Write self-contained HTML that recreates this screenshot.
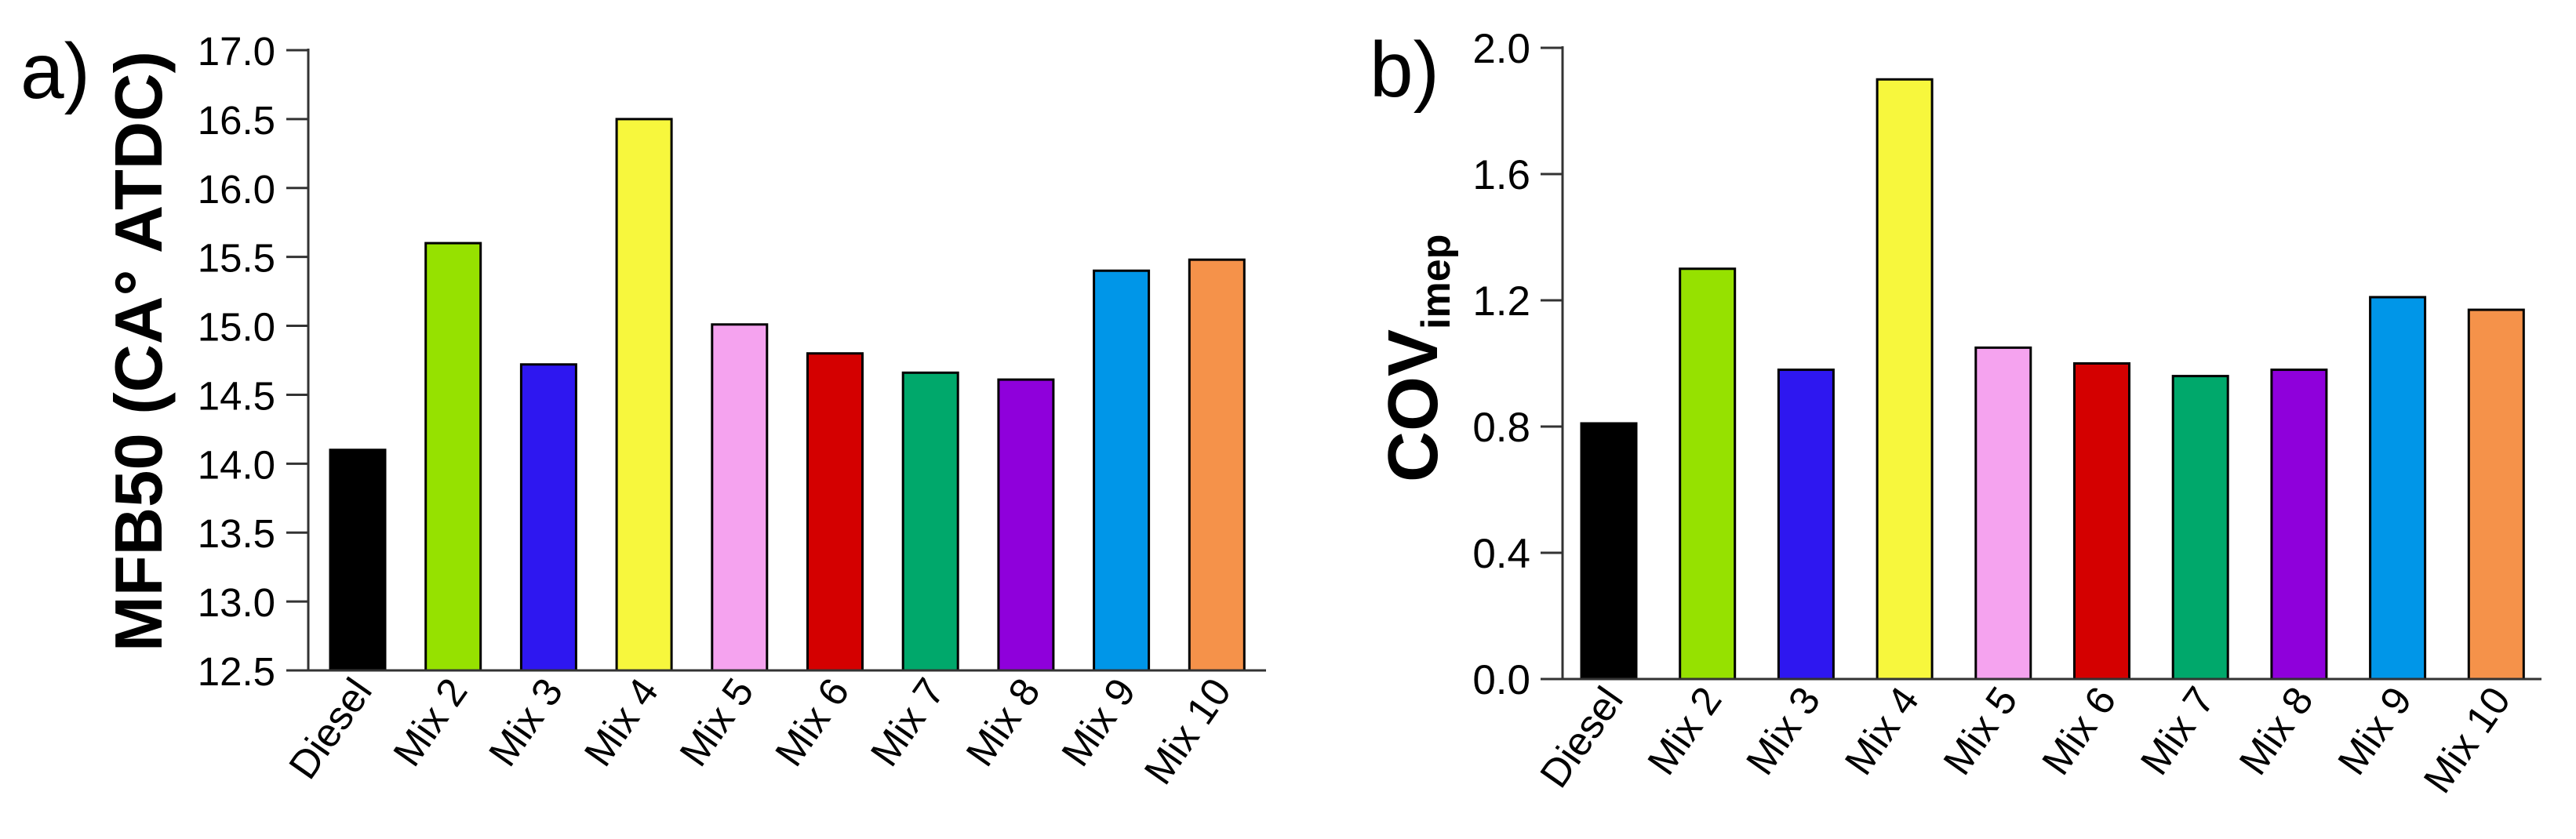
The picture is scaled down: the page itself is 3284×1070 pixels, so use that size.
<!DOCTYPE html>
<html><head><meta charset="utf-8"><style>
html,body{margin:0;padding:0;background:#fff;}
svg{display:block;font-family:"Liberation Sans",Arial,sans-serif;}
</style></head><body>
<svg id="chart" width="3284" height="1070" viewBox="0 0 3284 1070" xmlns="http://www.w3.org/2000/svg">
<rect width="3284" height="1070" fill="#fff"/>
<g id="pa"></g>
<g id="pb"></g>
</svg>
<script>
const categories = ["Diesel","Mix 2","Mix 3","Mix 4","Mix 5","Mix 6","Mix 7","Mix 8","Mix 9","Mix 10"];
const colors = ["#000000","#96e100","#2e17f0","#f7f73d","#f5a3ef","#d40000","#00a86b","#8f00db","#0096e8","#f5924a"];
const mfb50Values = [14.1,15.6,14.72,16.5,15.01,14.8,14.66,14.61,15.4,15.48];
const covValues = [0.81,1.30,0.98,1.90,1.05,1.00,0.96,0.98,1.21,1.17];
const mfbTicks = ["12.5","13.0","13.5","14.0","14.5","15.0","15.5","16.0","16.5","17.0"];
const covTicks = ["0.0","0.4","0.8","1.2","1.6","2.0"];
const NS="http://www.w3.org/2000/svg";
function mk(tag,attrs,parent){const e=document.createElementNS(NS,tag);for(const k in attrs)e.setAttribute(k,attrs[k]);parent.appendChild(e);return e;}

function drawPanel(g,cfg){
  const y=v=>cfg.y0+(v-cfg.vmin)/(cfg.vmax-cfg.vmin)*(cfg.y1-cfg.y0);
  const x=i=>cfg.barX0+i*cfg.step;
  cfg.values.forEach((v,i)=>{
    const r=mk('rect',{x:x(i),y:y(v),width:cfg.bw,height:cfg.y0-y(v),fill:colors[i],stroke:'#000','stroke-width':3},g);
    
    
    const l=mk('text',{transform:`translate(${x(i)+cfg.bw/2+20},${cfg.y0+26}) rotate(-55)`,'text-anchor':'end','font-size':51,fill:'#000'},g);
    l.textContent=categories[i];
    
    
  });
  const ya=mk('line',{x1:cfg.ax,y1:y(cfg.vmax)-2,x2:cfg.ax,y2:cfg.y0,stroke:'#333','stroke-width':3},g);
  
  
  const xa=mk('line',{x1:cfg.ax-28,y1:cfg.y0,x2:cfg.axEnd,y2:cfg.y0,stroke:'#333','stroke-width':3},g);
  
  
  cfg.ticks.forEach(t=>{
    const yy=y(parseFloat(t));
    const tl=mk('line',{x1:cfg.ax-28,y1:yy,x2:cfg.ax,y2:yy,stroke:'#333','stroke-width':3},g);
    
    
    const tt=mk('text',{x:cfg.labR,y:yy+19,'text-anchor':'end','font-size':cfg.fs,fill:'#000'},g);
    tt.textContent=t;
    
    
  });
}
const pa=document.getElementById('pa'), pb=document.getElementById('pb');
drawPanel(pa,{values:mfb50Values,ticks:mfbTicks,vmin:12.5,vmax:17.0,y0:855,y1:64,ax:393,axEnd:1614,barX0:421,step:121.7,bw:70,labR:351,fs:51});
drawPanel(pb,{values:covValues,ticks:covTicks,vmin:0,vmax:2.0,y0:866,y1:61,ax:1992,axEnd:3240,barX0:2016,step:125.7,bw:70,labR:1951,fs:53});

let t=mk('text',{x:26,y:125,'font-size':100,fill:'#000'},pa);t.textContent='a)';


t=mk('text',{transform:'translate(206,448) rotate(-90)','text-anchor':'middle','font-size':85,'font-weight':'bold',fill:'#000'},pa);
t.textContent='MFB50 (CA° ATDC)';


t=mk('text',{x:1746,y:123,'font-size':100,fill:'#000'},pb);t.textContent='b)';


t=mk('text',{transform:'translate(1832,615) rotate(-90)','font-size':90,'font-weight':'bold',fill:'#000'},pb);
t.innerHTML='COV<tspan font-size="52" dy="16">imep</tspan>';


</script>
</body></html>
